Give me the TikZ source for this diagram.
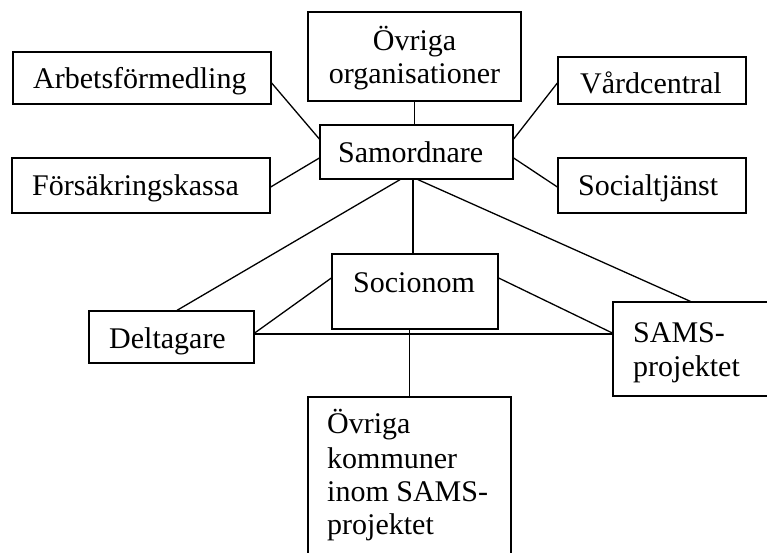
\documentclass[tikz,border=0pt]{standalone}
\usepackage{fontspec}
\setmainfont{Liberation Serif}
\begin{document}
\begin{tikzpicture}[x=1pt,y=-1pt,
  box/.style={draw, line width=1.3pt, inner sep=0pt},
  lbl/.style={anchor=base west, inner sep=0pt, font=\fontsize{30}{34}\selectfont},
  conn/.style={line width=1.3pt}]
\useasboundingbox (0,0) rectangle (767,552);
% boxes
\node[box, minimum width=213pt, minimum height=89pt] (org)  at (414.5,56.5) {};
\node[box, minimum width=258pt, minimum height=52pt] (arb)  at (142,78) {};
\node[box, minimum width=188pt, minimum height=47pt] (vard) at (652,80.5) {};
\node[box, minimum width=193pt, minimum height=54pt] (sam)  at (416.5,152) {};
\node[box, minimum width=258pt, minimum height=55pt] (fors) at (141,185.5) {};
\node[box, minimum width=188pt, minimum height=55pt] (soc)  at (652,185.5) {};
\node[box, minimum width=166pt, minimum height=75pt] (socn) at (415,291.5) {};
\node[box, minimum width=165pt, minimum height=52pt] (delt) at (171.5,337) {};
\node[box, minimum width=172pt, minimum height=94pt] (sams) at (699,349) {};
\node[box, minimum width=203pt, minimum height=180pt] (kom) at (409.5,487) {};
% texts
\node[lbl, anchor=base] at (414.5,50) {Övriga};
\node[lbl, anchor=base] at (414.5,83) {organisationer};
\node[lbl] at (33,88) {Arbetsförmedling};
\node[lbl] at (580,93) {Vårdcentral};
\node[lbl] at (338,162) {Samordnare};
\node[lbl] at (32,195) {Försäkringskassa};
\node[lbl] at (578,195) {Socialtjänst};
\node[lbl] at (353,292) {Socionom};
\node[lbl] at (109,348) {Deltagare};
\node[lbl] at (633,342) {SAMS-};
\node[lbl] at (633,376) {projektet};
\node[lbl] at (327,433) {Övriga};
\node[lbl] at (327,468) {kommuner};
\node[lbl] at (327,501) {inom SAMS-};
\node[lbl] at (327,534) {projektet};
% connectors
\draw[conn] (org.south) -- (org.south |- sam.north);
\draw[conn] ([yshift=-5pt]arb.east) -- ([yshift=13pt]sam.west);
\draw[conn] ([yshift=-1.5pt]fors.east) -- ([yshift=-6pt]sam.west);
\draw[conn] ([yshift=13pt]sam.east) -- ([yshift=-2.5pt]vard.west);
\draw[conn] ([yshift=-6pt]sam.east) -- ([yshift=-1.5pt]soc.west);
\draw[conn] ([xshift=-3.5pt]sam.south) -- ([xshift=-3.5pt]sam.south |- socn.north);
\draw[conn] ([xshift=-16.5pt]sam.south) -- ([xshift=5.5pt]delt.north);
\draw[conn] ([xshift=1.5pt]sam.south) -- ([xshift=78pt]sams.north west);
\draw[conn] ([yshift=4pt]delt.east) -- ([yshift=13.5pt]socn.west);
\draw[conn] ([yshift=3pt]delt.east) -- ([yshift=15pt]sams.west);
\draw[conn] ([yshift=13.5pt]socn.east) -- ([yshift=16pt]sams.west);
\draw[conn] (socn.south -| kom.north) -- (kom.north);
\end{tikzpicture}
\end{document}
